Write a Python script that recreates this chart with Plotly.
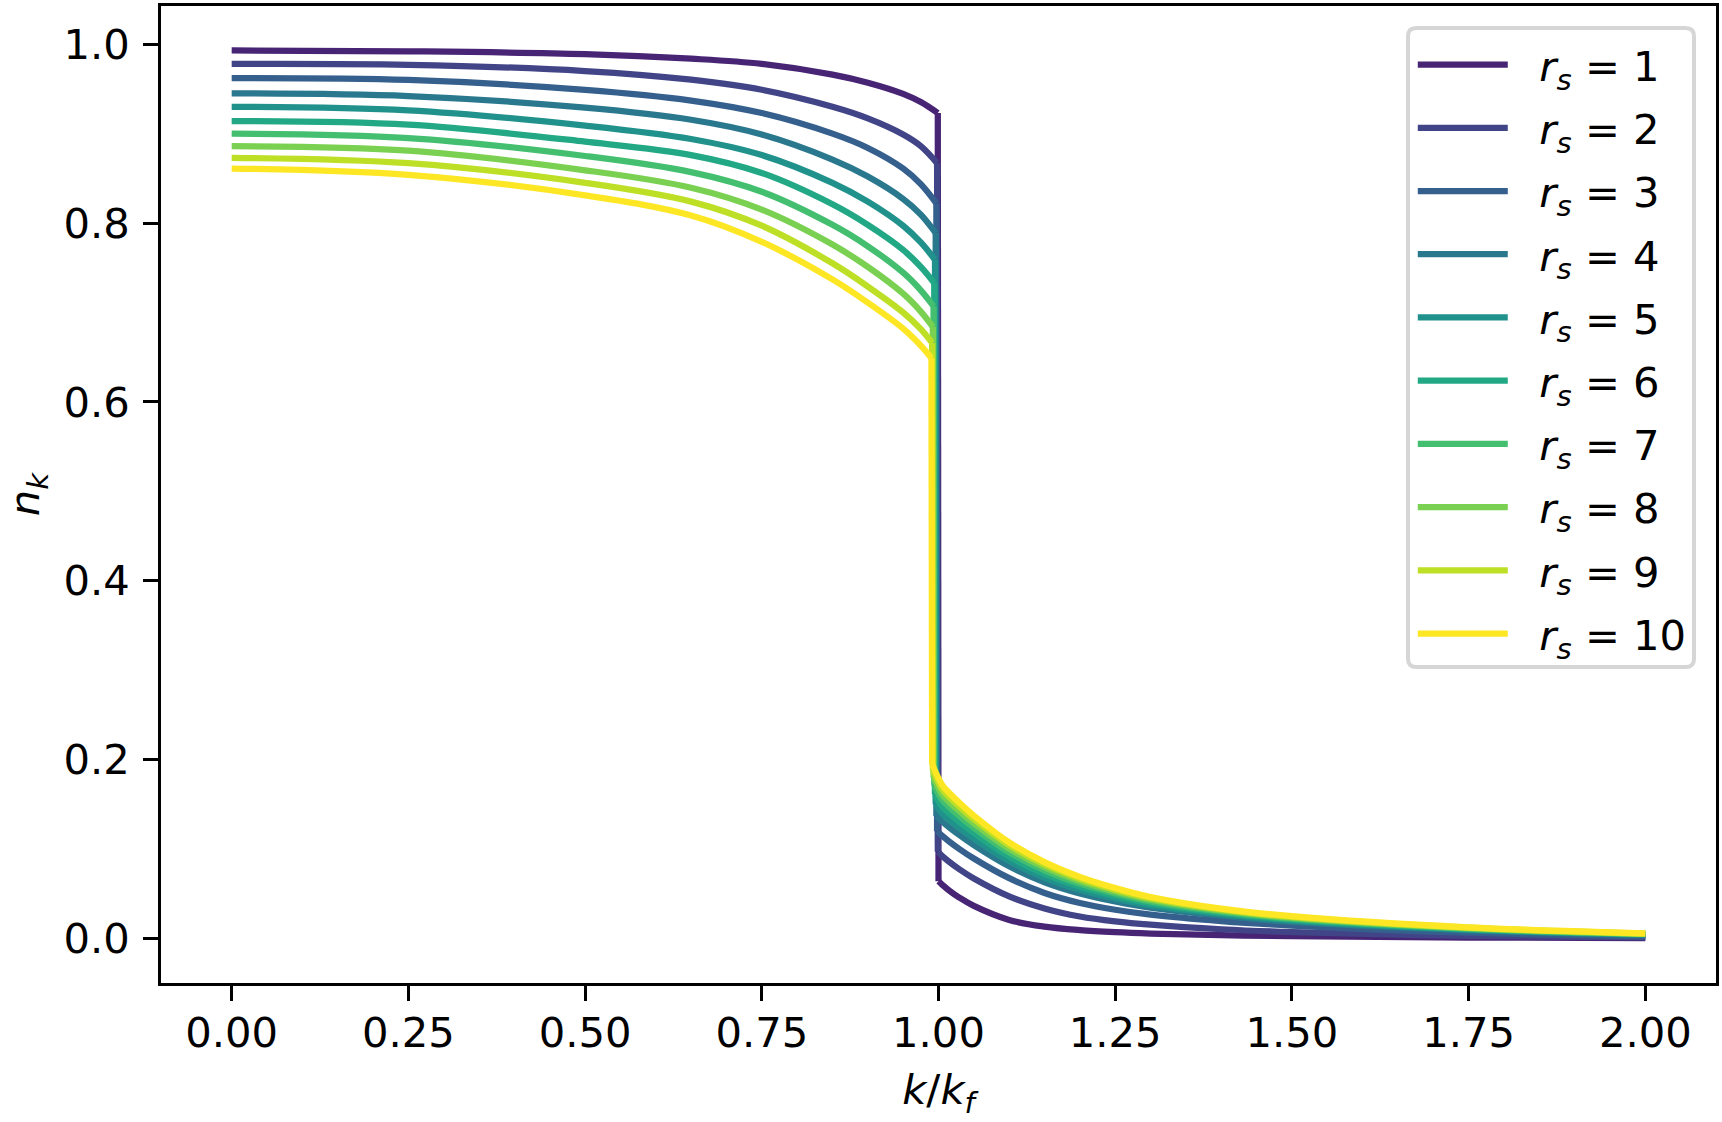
import plotly.graph_objects as go

# ---- data ----
RS = [1, 2, 3, 4, 5, 6, 7, 8, 9, 10]
COLORS = ["#482475", "#414487", "#355f8d", "#2a788e", "#21918c",
          "#22a884", "#44bf70", "#7ad151", "#bddf26", "#fde725"]

# k/kf positions below the Fermi surface (shared)
X_BELOW = [0.0, 0.25, 0.5, 0.65, 0.75, 0.85, 0.9, 0.95, 0.975]
# k/kf positions above the Fermi surface (shared)
X_ABOVE = [1.005, 1.015, 1.03, 1.05, 1.1, 1.15, 1.2, 1.25, 1.3, 1.4, 1.5, 1.75, 2.0]

# x where each curve reaches the top / bottom of its jump
X_JUMP_TOP = [0.999, 0.998, 0.997, 0.996, 0.995, 0.994, 0.993, 0.992, 0.991, 0.990]
X_JUMP_BOTTOM = [1.000, 0.999, 0.998, 0.997, 0.996, 0.995, 0.994, 0.993, 0.992, 0.991]

# n_k below k_f (values at X_BELOW, then the top of the jump)
N_BELOW_RS1 = [0.993, 0.992, 0.989, 0.9838, 0.978, 0.966, 0.957, 0.9445, 0.9353, 0.923]
N_BELOW_RS2 = [0.978, 0.977, 0.970, 0.9603, 0.949, 0.930, 0.917, 0.899, 0.886, 0.867]
N_BELOW_RS3 = [0.962, 0.960, 0.949, 0.937, 0.923, 0.900, 0.884, 0.861, 0.8435, 0.822]
N_BELOW_RS4 = [0.945, 0.942, 0.929, 0.9155, 0.899, 0.871, 0.852, 0.827, 0.8095, 0.789]
N_BELOW_RS5 = [0.930, 0.926, 0.909, 0.894, 0.876, 0.845, 0.824, 0.797, 0.7783, 0.759]
N_BELOW_RS6 = [0.914, 0.910, 0.891, 0.876, 0.856, 0.821, 0.798, 0.770, 0.751, 0.733]
N_BELOW_RS7 = [0.900, 0.895, 0.875, 0.857, 0.835, 0.798, 0.774, 0.7445, 0.7248, 0.707]
N_BELOW_RS8 = [0.886, 0.881, 0.859, 0.8395, 0.815, 0.776, 0.751, 0.721, 0.701, 0.684]
N_BELOW_RS9 = [0.873, 0.867, 0.845, 0.824, 0.797, 0.755, 0.729, 0.700, 0.6813, 0.666]
N_BELOW_RS10 = [0.861, 0.854, 0.831, 0.8085, 0.779, 0.737, 0.711, 0.682, 0.663, 0.649]

# n_k above k_f (bottom of the jump, then values at X_ABOVE)
N_ABOVE_RS1 = [0.064, 0.0604, 0.0538, 0.0455, 0.0365, 0.0208, 0.0133, 0.0094, 0.0071, 0.0056, 0.0038, 0.0026, 0.0011, 0.0005]
N_ABOVE_RS2 = [0.097, 0.0925, 0.0859, 0.0772, 0.0672, 0.0472, 0.0337, 0.0247, 0.0192, 0.0155, 0.0104, 0.0072, 0.0031, 0.0014]
N_ABOVE_RS3 = [0.120, 0.115, 0.1086, 0.0999, 0.0895, 0.0675, 0.051, 0.0398, 0.0322, 0.0267, 0.0195, 0.0145, 0.0065, 0.0025]
N_ABOVE_RS4 = [0.137, 0.131, 0.1245, 0.1155, 0.1045, 0.0808, 0.063, 0.0505, 0.0415, 0.0345, 0.0255, 0.0185, 0.0092, 0.0042]
N_ABOVE_RS5 = [0.150, 0.140, 0.133, 0.1234, 0.1118, 0.0866, 0.068, 0.0546, 0.0448, 0.0371, 0.0273, 0.0199, 0.0099, 0.0046]
N_ABOVE_RS6 = [0.161, 0.1478, 0.1403, 0.1303, 0.1180, 0.0917, 0.0722, 0.0581, 0.0477, 0.0394, 0.0288, 0.0212, 0.0106, 0.0049]
N_ABOVE_RS7 = [0.171, 0.1552, 0.1472, 0.1367, 0.1240, 0.0965, 0.0763, 0.0614, 0.0504, 0.0416, 0.0302, 0.0223, 0.0111, 0.0051]
N_ABOVE_RS8 = [0.180, 0.1613, 0.1530, 0.1421, 0.1289, 0.1006, 0.0797, 0.0642, 0.0526, 0.0434, 0.0314, 0.0233, 0.0116, 0.0054]
N_ABOVE_RS9 = [0.188, 0.1671, 0.1584, 0.1472, 0.1335, 0.1044, 0.0828, 0.0668, 0.0547, 0.0451, 0.0325, 0.0242, 0.0121, 0.0056]
N_ABOVE_RS10 = [0.195, 0.172, 0.163, 0.1515, 0.1375, 0.1075, 0.0855, 0.069, 0.0565, 0.0465, 0.0335, 0.025, 0.0125, 0.0058]

N_BELOW = [N_BELOW_RS1, N_BELOW_RS2, N_BELOW_RS3, N_BELOW_RS4, N_BELOW_RS5,
           N_BELOW_RS6, N_BELOW_RS7, N_BELOW_RS8, N_BELOW_RS9, N_BELOW_RS10]
N_ABOVE = [N_ABOVE_RS1, N_ABOVE_RS2, N_ABOVE_RS3, N_ABOVE_RS4, N_ABOVE_RS5,
           N_ABOVE_RS6, N_ABOVE_RS7, N_ABOVE_RS8, N_ABOVE_RS9, N_ABOVE_RS10]

X_TICKS = [0.0, 0.25, 0.5, 0.75, 1.0, 1.25, 1.5, 1.75, 2.0]
Y_TICKS = [0.0, 0.2, 0.4, 0.6, 0.8, 1.0]

# ---- figure ----
FONT = "DejaVu Sans"
FS = 41.7
LW = 6.25
SPINE = 3.3

fig = go.Figure()
for i, rs in enumerate(RS):
    name = f"&nbsp;&nbsp;<i>r</i><sub><i>s</i></sub> = {rs}"
    grp = f"g{rs}"
    below_x = X_BELOW + [X_JUMP_TOP[i]]
    above_x = [X_JUMP_BOTTOM[i]] + X_ABOVE
    # smooth part below k_f
    fig.add_trace(go.Scatter(
        x=below_x, y=N_BELOW[i], mode="lines", name=name, legendgroup=grp,
        line=dict(color=COLORS[i], width=LW, shape="spline", smoothing=1.0),
        showlegend=True,
    ))
    # the jump at k_f
    fig.add_trace(go.Scatter(
        x=[X_JUMP_TOP[i], X_JUMP_BOTTOM[i]], y=[N_BELOW[i][-1], N_ABOVE[i][0]],
        mode="lines", name=name, legendgroup=grp,
        line=dict(color=COLORS[i], width=LW), showlegend=False,
    ))
    # smooth part above k_f
    fig.add_trace(go.Scatter(
        x=above_x, y=N_ABOVE[i], mode="lines", name=name, legendgroup=grp,
        line=dict(color=COLORS[i], width=LW, shape="spline", smoothing=1.0),
        showlegend=False,
    ))

axis_common = dict(
    showgrid=False, zeroline=False,
    showline=True, linecolor="black", linewidth=SPINE, mirror=True,
    ticks="outside", ticklen=14.6, tickwidth=SPINE, tickcolor="black",
    tickfont=dict(family=FONT, size=FS, color="black"),
)

# rounded legend frame (paper coordinates)
bx0, bx1, by0, by1 = 0.80193, 0.98585, 0.32344, 0.97748
rx, ry = 0.00534, 0.0085
frame_path = (
    f"M {bx0 + rx},{by1} L {bx1 - rx},{by1} Q {bx1},{by1} {bx1},{by1 - ry} "
    f"L {bx1},{by0 + ry} Q {bx1},{by0} {bx1 - rx},{by0} "
    f"L {bx0 + rx},{by0} Q {bx0},{by0} {bx0},{by0 + ry} "
    f"L {bx0},{by1 - ry} Q {bx0},{by1} {bx0 + rx},{by1} Z"
)

fig.update_layout(
    width=1722, height=1122,
    margin=dict(l=161, r=6, t=6, b=139, autoexpand=False),
    paper_bgcolor="white", plot_bgcolor="white",
    font=dict(family=FONT, size=FS, color="black"),
    xaxis=dict(range=[-0.1, 2.1], tickvals=X_TICKS, tickformat=".2f",
               ticklabelstandoff=-4,
               title=dict(text="<i>k</i>/<i>k</i><sub><i>f</i></sub>",
                          font=dict(family=FONT, size=FS), standoff=20),
               **axis_common),
    yaxis=dict(range=[-0.0497, 1.0427], tickvals=Y_TICKS, tickformat=".1f",
               ticklabelstandoff=5,
               title=dict(text="<i>n</i><sub><i>k</i></sub>",
                          font=dict(family=FONT, size=FS), standoff=16),
               **axis_common),
    legend=dict(x=0.987, y=0.9785, xanchor="right", yanchor="top",
                bgcolor="rgba(0,0,0,0)", bordercolor="rgba(0,0,0,0)", borderwidth=4,
                font=dict(family=FONT, size=FS, color="black"),
                itemwidth=90, tracegroupgap=6),
    shapes=[dict(type="path", xref="paper", yref="paper", path=frame_path,
                 fillcolor="rgba(255,255,255,0.8)",
                 line=dict(color="#d6d6d6", width=4), layer="above")],
    showlegend=True,
)

fig.write_html("out.html", config={"displayModeBar": False},
               post_script="document.body.style.margin='0px';")
